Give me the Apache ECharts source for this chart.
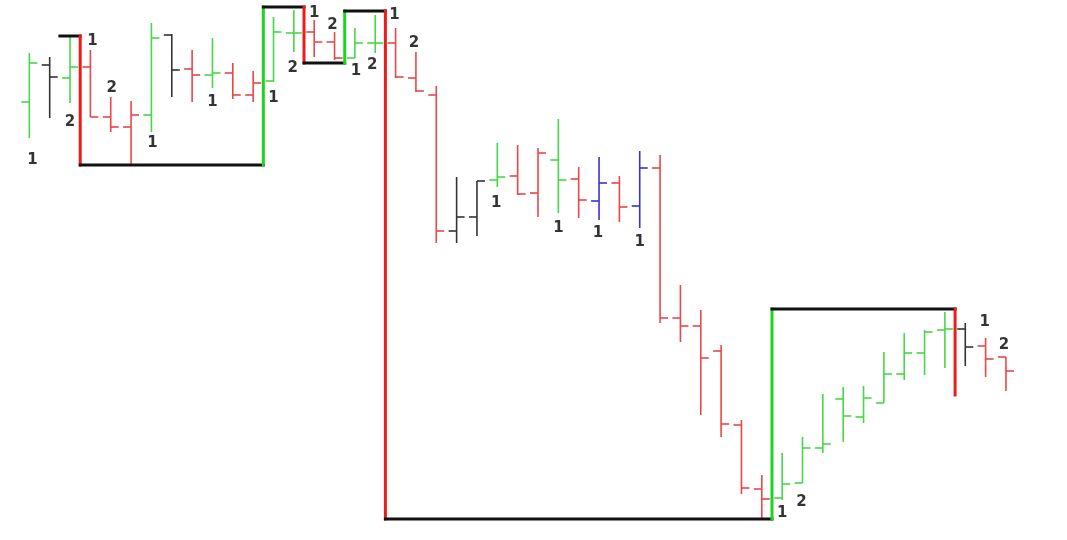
<!DOCTYPE html>
<html>
<head>
<meta charset="utf-8">
<script src="https://cdn.jsdelivr.net/npm/echarts@6/dist/echarts.min.js"></script>
<style>html,body{margin:0;padding:0;background:#fff;}#c{width:1067px;height:540px;}</style>
</head>
<body>
<div id="c"></div>
<script>
// OHLC bars (bar number 1..49)
const opens  = [93.8,97.5,96.2,97.3,92.3,91.3,92.5,100.5,97.1,96.5,96.7,94.5,95.9,100.7,100.8,99.8,98.2,99.7,99.7,96.2,94.5,80.9,82.3,86.0,86.4,84.7,88.0,86.1,83.9,85.7,83.4,87.2,72.2,71.4,68.9,61.5,55.1,54.2,55.7,59.2,64.1,62.3,63.7,66.6,68.7,71.0,71.1,69.4,68.3];
const highs  = [98.7,98.3,100.3,99.0,94.3,93.9,101.7,100.6,99.0,100.2,97.7,96.9,102.3,103.0,102.0,100.8,101.2,102.5,101.2,98.8,95.4,86.3,85.9,89.7,89.5,89.2,92.1,87.3,88.3,86.4,88.9,88.5,75.5,73.0,69.5,62.0,56.5,58.7,60.3,64.6,65.3,65.4,68.8,70.7,71.0,72.8,71.7,70.2,68.3];
const lows   = [90.2,92.2,93.7,92.3,90.8,87.6,90.8,94.3,93.8,95.2,94.1,93.8,95.8,98.8,98.3,98.0,98.2,98.7,96.2,94.8,79.7,79.7,80.4,85.3,84.5,82.3,82.7,82.2,82.0,81.8,81.2,71.7,69.8,62.5,60.3,54.6,52.0,54.0,55.7,58.7,59.8,61.7,63.7,66.0,66.5,67.2,67.4,66.3,64.9];
const closes = [97.7,96.3,97.3,92.3,91.3,92.5,100.2,97.0,96.5,96.7,94.5,95.7,100.8,100.7,99.8,98.2,99.7,99.7,96.3,94.9,80.9,82.3,85.9,86.3,84.6,88.7,86.0,84.0,85.7,83.3,87.2,72.2,71.4,68.2,61.6,55.2,54.1,55.6,59.2,59.6,62.4,64.2,66.6,68.7,70.8,71.1,69.3,68.1,66.9];
// bar type: G = up bar, R = down bar, K = inside bar, B = outside bar
const kinds  = ['G','K','G','R','R','R','G','K','R','G','R','R','G','G','R','R','G','G','R','R','R','K','K','G','R','R','G','R','B','R','B','R','R','R','R','R','R','G','G','G','G','G','G','G','G','G','K','R','R'];

// swing line turning points (x in bar units)
const swingX = [2.5,3.5,3.5,12.5,12.5,14.5,14.5,16.5,16.5,18.5,18.5,37.5,37.5,46.5,46.5];
const swingY = [100.4,100.4,87.5,87.5,103.3,103.3,97.7,97.7,102.9,102.9,52.1,52.1,73.1,73.1,64.5];

// count labels
const labelX = [1.15,3.0,4.1,5.05,7.05,10.0,13.0,15.0,15.9,13.95,17.05,17.85,18.95,19.9,23.95,27.0,28.95,31.0,38.0,38.95,47.95,48.9];
const labelY = [88.0,91.8,99.9,95.2,89.7,93.8,94.2,102.7,101.5,97.2,96.9,97.5,102.5,99.7,83.7,81.2,80.7,79.8,52.7,53.8,71.8,69.5];
const labelText = ['1','2','1','2','1','1','1','1','2','2','1','2','1','2','1','1','1','1','1','2','1','2'];

const barColors = {G:'#46d846', R:'#ec4646', K:'#333333', B:'#3434dc'};

const ohlcData = opens.map((o,i)=>[i+1, o, highs[i], lows[i], closes[i]]);
const segData = [];
for (let i=0;i<swingX.length-1;i++) segData.push([swingX[i], swingY[i], swingX[i+1], swingY[i+1]]);
const labelData = labelX.map((x,i)=>[x, labelY[i], labelText[i]]);

const chart = echarts.init(document.getElementById('c'));
chart.setOption({
  animation:false,
  backgroundColor:'#fff',
  grid:{left:9, top:0, width:1061, height:540},
  xAxis:{type:'value', min:0, max:52, show:false},
  yAxis:{type:'value', min:50, max:104, show:false},
  series:[
    {
      type:'custom',
      data: ohlcData,
      renderItem:function(params, api){
        const x = api.value(0);
        const pO = api.coord([x, api.value(1)]);
        const pH = api.coord([x, api.value(2)]);
        const pL = api.coord([x, api.value(3)]);
        const pC = api.coord([x, api.value(4)]);
        const col = barColors[kinds[params.dataIndex]];
        const st = {stroke:col, lineWidth:1.6};
        return {type:'group', children:[
          {type:'line', shape:{x1:pH[0], y1:pH[1], x2:pL[0], y2:pL[1]}, style:st},
          {type:'line', shape:{x1:pO[0]-8, y1:pO[1], x2:pO[0], y2:pO[1]}, style:st},
          {type:'line', shape:{x1:pC[0], y1:pC[1], x2:pC[0]+8, y2:pC[1]}, style:st}
        ]};
      }
    },
    {
      type:'custom',
      data: segData,
      z:3,
      renderItem:function(params, api){
        const a = api.coord([api.value(0), api.value(1)]);
        const b = api.coord([api.value(2), api.value(3)]);
        const dy = api.value(3) - api.value(1);
        const col = dy > 0 ? '#1fd41f' : (dy < 0 ? '#ee1b1b' : '#111111');
        return {type:'line', shape:{x1:a[0], y1:a[1], x2:b[0], y2:b[1]}, style:{stroke:col, lineWidth:3, lineCap:'square'}};
      }
    },
    {
      type:'scatter',
      data: labelData,
      symbolSize:0,
      z:4,
      label:{show:true, position:'inside', formatter:p=>p.data[2], color:'#000000', fontFamily:'DejaVu Sans', fontWeight:'bold', fontSize:15}
    }
  ]
});
</script>
</body>
</html>
